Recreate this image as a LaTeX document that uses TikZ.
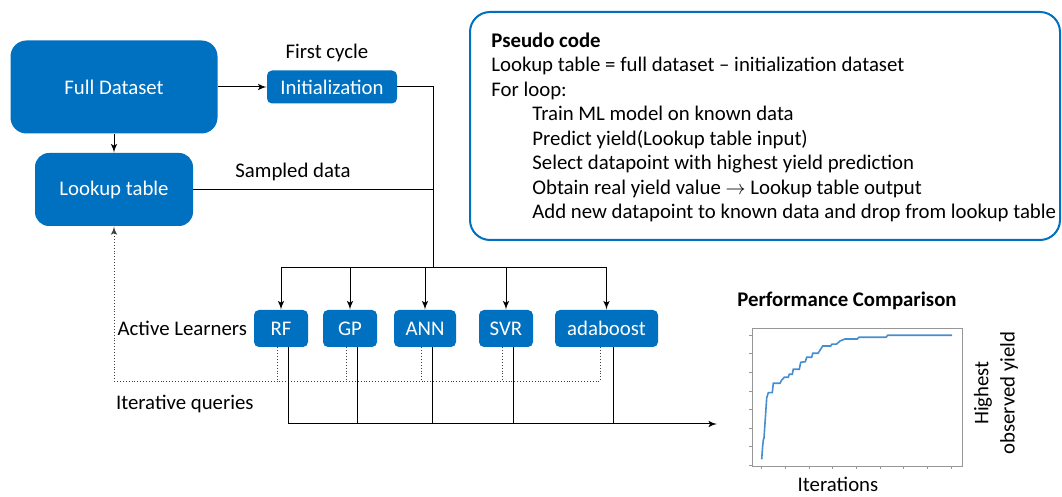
\documentclass[tikz,border=0pt]{standalone}
\usepackage{fontspec}
\setmainfont{Carlito}
\usepackage{tikz}
\usetikzlibrary{arrows, arrows.meta}
\definecolor{boxblue}{RGB}{0,112,192}
\definecolor{lineblue}{RGB}{70,142,208}
\definecolor{axisgray}{RGB}{150,150,150}
\tikzset{block/.style = {shape = rectangle, rounded corners = 2.5pt, fill = boxblue, text = white, inner sep = 0pt}}
\tikzset{learner/.style = {block, minimum height = 18.5pt}}
\tikzset{edge/.style = {-, line width = 0.5pt, > = latex'}}
\tikzset{query/.style = {densely dotted, black!75, line width = 0.45pt, > = latex'}}

\begin{document}
\begin{tikzpicture}[x = 0.5pt, y = -0.5pt, font = \fontsize{10.4}{12.25}\selectfont]
				\useasboundingbox (0, 0) rectangle (1062, 497);

				\node[block, rounded corners = 8pt, minimum width = 103.5pt, minimum height = 46.5pt] (full) at (114, 87) {Full Dataset};
				\node[block, rounded corners = 7pt, minimum width = 79pt, minimum height = 36.5pt] (lookup) at (114, 189.5) {Lookup table};
				\node[block, minimum width = 65pt, minimum height = 16.5pt] (init) at (332, 87) {Initialization};
				\node (cycle) at (327, 52.5) {First cycle};
				\node (sampled) at (293, 172) {Sampled data};

				\node[learner, minimum width = 27pt] (rf) at (281, 328.5) {RF};
				\node[learner, minimum width = 27pt] (gp) at (350, 328.5) {GP};
				\node[learner, minimum width = 31pt] (ann) at (425, 328.5) {ANN};
				\node[learner, minimum width = 27pt] (svr) at (506, 328.5) {SVR};
				\node[learner, minimum width = 51.5pt] (ada) at (606.5, 328.5) {adaboost};
				\node[anchor = east] (learners) at (254, 328.5) {Active Learners};
				\node[anchor = west] (queries) at (109, 404) {Iterative queries};

				\coordinate (split) at (433, 268);
				\coordinate (back) at (114, 381);
				\coordinate (result) at (717, 424);

				\draw[edge, ->] (full) to (init);
				\draw[edge, ->] (full) to (lookup);
				\draw[edge] (init) -| (split);
				\draw[edge] (lookup) -- (lookup -| split);
				\foreach \n in {rf, gp, ann, svr, ada}
					\draw[edge, ->] (split) -| (\n);

				\draw[query, ->] ([xshift = -3pt]ada.south) |- (back) -- (lookup);
				\foreach \n in {rf, gp, ann, svr}
					\draw[query] ([xshift = -2pt]\n.south) -- ([xshift = -2pt]\n.south |- back);

				\draw[edge, ->] ([xshift = 3.5pt]rf.south) |- (result);
				\foreach \n in {gp, ann, svr, ada}
					\draw[edge] ([xshift = 3.5pt]\n.south) -- ([xshift = 3.5pt]\n.south |- result);

				\node[draw = boxblue, line width = 1pt, rounded corners = 10pt, minimum width = 295pt, minimum height = 114pt] (pseudo) at (765, 126) {};
				\node[anchor = west, align = left, inner sep = 0pt] (code) at ([xshift = 11pt, yshift = -0.7pt]pseudo.west) {\textbf{Pseudo code}\\
					Lookup table = full dataset -- initialization dataset\\
					For loop:\\
					\hspace*{20.5pt}Train ML model on known data\\
					\hspace*{20.5pt}Predict yield(Lookup table input)\\
					\hspace*{20.5pt}Select datapoint with highest yield prediction\\
					\hspace*{20.5pt}Obtain real yield value $\rightarrow$ Lookup table output\\
					\hspace*{20.5pt}Add new datapoint to known data and drop from lookup table};

				\node[font = \fontsize{10.4}{12.25}\selectfont\bfseries] (perf) at (847, 301) {Performance Comparison};
				\draw[axisgray, line width = 0.4pt] (752, 328) rectangle (962, 466);
				\foreach \k in {0, ..., 7}
					\draw[axisgray, line width = 0.4pt] (752, 335.3 + 18.6*\k) -- ++(-3, 0);
				\foreach \k in {0, ..., 8}
					\draw[axisgray, line width = 0.4pt] (761.7 + 23.65*\k, 466) -- ++(0, 3);
				\draw[lineblue, line width = 0.8pt] plot coordinates {(761.7,459.3) (762.5,448) (763.3,440) (764,438) (766.7,398) (768.3,392.7) (772.3,392.7) (773.3,383.3) (780,383.3) (781.7,380) (784.3,377.3) (788.3,377.3) (789.3,374.3) (792.3,374.3) (793.3,369.3) (799.3,369.3) (800.7,362.3) (805.3,361.7) (806.7,357.3) (811.7,357.3) (812.7,353.3) (818,353.3) (822.7,346) (830.7,346) (831.7,344.3) (836.7,344) (840,341) (845,339) (857.3,339) (859,337.3) (886,337.3) (887.7,335.3) (952,335.3)};
				\node (iter) at (838, 484) {Iterations};
				\node[rotate = 90] (highest) at (983, 393) {Highest};
				\node[rotate = 90] (observed) at (1009, 393) {observed yield};
			\end{tikzpicture}
\end{document}
